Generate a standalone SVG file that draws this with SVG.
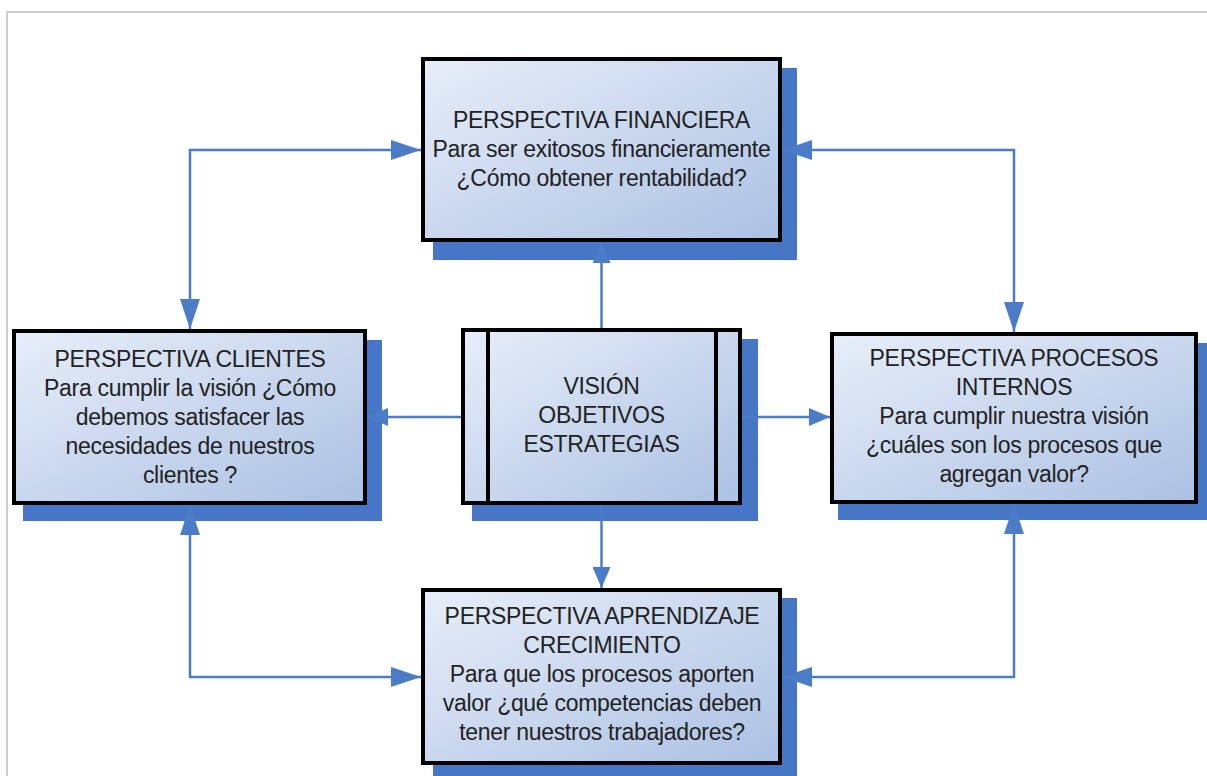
<svg xmlns="http://www.w3.org/2000/svg" width="1207" height="776" viewBox="0 0 1207 776">
<style>
.bg{fill:#ffffff}
.frame{fill:none;stroke:#cfcfcf;stroke-width:2}
.shadow{fill:#4876c6}
.box{fill:url(#grad);stroke:#000;stroke-width:4}
.bar{stroke:#000;stroke-width:4}
.t{font-family:"Liberation Sans",Arial,sans-serif;font-size:23px;letter-spacing:-0.3px;fill:#222;text-anchor:middle}
.c{fill:none;stroke:#4a7cc8;stroke-width:2.5}
</style>
<defs>
<linearGradient id="grad" x1="0" y1="0" x2="1" y2="1">
<stop offset="0" stop-color="#e8eef9"/>
<stop offset="1" stop-color="#abc1e3"/>
</linearGradient>
<marker id="arr" viewBox="0 0 30 20" refX="30" refY="10" markerWidth="30" markerHeight="20" markerUnits="userSpaceOnUse" orient="auto-start-reverse">
<path d="M0,0 L30,10 L0,20 Z" fill="#4a7cc8"/>
</marker>
<marker id="arrs" viewBox="0 0 21 18" refX="21" refY="9" markerWidth="21" markerHeight="18" markerUnits="userSpaceOnUse" orient="auto-start-reverse">
<path d="M0,0 L21,9 L0,18 Z" fill="#4a7cc8"/>
</marker>
</defs>
<rect class="bg" x="0" y="0" width="1207" height="776"/>
<rect class="frame" x="7" y="12" width="1230" height="800"/>

<g id="financiera">
<rect class="shadow" x="433" y="68" width="364" height="192"/>
<rect class="box" x="423" y="59" width="357" height="181"/>
<text class="t" x="601.5" y="128">PERSPECTIVA FINANCIERA</text>
<text class="t" x="601.5" y="157">Para ser exitosos financieramente</text>
<text class="t" x="601.5" y="186">¿Cómo obtener rentabilidad?</text>
</g>

<g id="clientes">
<rect class="shadow" x="23" y="340" width="359" height="181"/>
<rect class="box" x="14" y="331" width="351" height="172"/>
<text class="t" x="190" y="367">PERSPECTIVA CLIENTES</text>
<text class="t" x="190" y="396">Para cumplir la visión ¿Cómo</text>
<text class="t" x="190" y="425">debemos satisfacer las</text>
<text class="t" x="190" y="454">necesidades de nuestros</text>
<text class="t" x="190" y="483">clientes ?</text>
</g>

<g id="vision">
<rect class="shadow" x="472" y="339" width="286" height="182"/>
<rect class="box" x="463" y="330" width="277" height="173"/>
<line class="bar" x1="488" y1="330" x2="488" y2="503"/>
<line class="bar" x1="716" y1="330" x2="716" y2="503"/>
<text class="t" x="601.5" y="394">VISIÓN</text>
<text class="t" x="601.5" y="423">OBJETIVOS</text>
<text class="t" x="601.5" y="452">ESTRATEGIAS</text>
</g>

<g id="procesos">
<rect class="shadow" x="838" y="343" width="380" height="177"/>
<rect class="box" x="832" y="334" width="364" height="168"/>
<text class="t" x="1014" y="366">PERSPECTIVA PROCESOS</text>
<text class="t" x="1014" y="395">INTERNOS</text>
<text class="t" x="1014" y="424">Para cumplir nuestra visión</text>
<text class="t" x="1014" y="453">¿cuáles son los procesos que</text>
<text class="t" x="1014" y="482">agregan valor?</text>
</g>

<g id="aprendizaje">
<rect class="shadow" x="433" y="598" width="364" height="190"/>
<rect class="box" x="423" y="590" width="357" height="173"/>
<text class="t" x="602" y="624">PERSPECTIVA APRENDIZAJE</text>
<text class="t" x="602" y="653">CRECIMIENTO</text>
<text class="t" x="602" y="682">Para que los procesos aporten</text>
<text class="t" x="602" y="711">valor ¿qué competencias deben</text>
<text class="t" x="602" y="740">tener nuestros trabajadores?</text>
</g>

<g id="connectors">
<path class="c" d="M190,329 V150 H421" marker-start="url(#arr)" marker-end="url(#arr)"/>
<path class="c" d="M1014,332 V150 H782" marker-start="url(#arr)" marker-end="url(#arr)"/>
<path class="c" d="M601.5,328 V242" marker-end="url(#arrs)"/>
<path class="c" d="M461,417 H367" marker-end="url(#arrs)"/>
<path class="c" d="M742,417 H830" marker-end="url(#arrs)"/>
<path class="c" d="M601.5,505 V588" marker-end="url(#arrs)"/>
<path class="c" d="M190,505 V677 H421" marker-start="url(#arr)" marker-end="url(#arr)"/>
<path class="c" d="M1014,504 V677 H782" marker-start="url(#arr)" marker-end="url(#arr)"/>
</g>
</svg>
